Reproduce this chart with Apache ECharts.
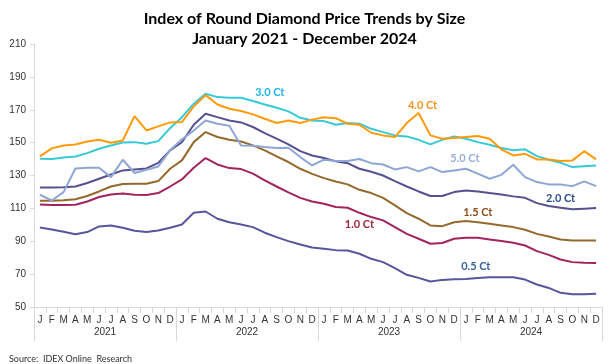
<!DOCTYPE html>
<html>
<head>
<meta charset="utf-8">
<script src="https://cdn.jsdelivr.net/npm/echarts@6/dist/echarts.min.js"></script>
<style>html,body{margin:0;padding:0;background:#fff}#c{width:609px;height:364px}</style>
</head>
<body>
<div id="c"></div>
<script>
var months = ['J','F','M','A','M','J','J','A','S','O','N','D'];
var years = ['2021','2022','2023','2024'];
var seriesNames = ['0.5 Ct','1.0 Ct','1.5 Ct','2.0 Ct','3.0 Ct','4.0 Ct','5.0 Ct'];

var ct05 = [98.4,97.2,95.8,94.3,95.6,99,99.6,98.2,96.4,95.6,96.6,98.2,
  100.2,107.3,108.1,103.7,101.6,100.2,98.6,95.2,92.5,90.1,88,86.2,
  85.4,84.6,84.4,82.4,79.3,77.3,73.6,69.6,67.7,65.5,66.5,66.9,
  67.1,67.7,68.1,68.1,68.1,66.7,63.7,61.6,58.6,57.8,57.8,58];
var ct10 = [112.4,112,112,112.2,114.2,116.9,118.5,119.1,118.3,118.1,119.3,123.3,
  127.6,134.7,140.6,136.7,134.5,133.9,131.1,127,123.3,119.7,116.4,114.2,
  112.8,110.8,110.4,107.3,104.7,102.7,98.6,94.5,91.5,88.5,88.9,91.5,
  92.1,92.1,91.1,90.1,89.1,87.4,84,81.7,78.9,77.3,76.9,76.7];
var ct15 = [114.6,114.6,115,115.6,117.5,120.3,123.3,124.8,125,125,126.6,134.1,
  139.2,150.3,156.4,153.4,151.7,150.7,148.3,145.3,141.6,138.2,134.1,131,
  128.4,126.4,124.6,121.3,119.3,116.4,111.8,107.1,103.7,99.6,99.2,101.6,
  102.3,101.6,100.6,99.6,98.6,97,94.5,92.9,91.1,90.5,90.5,90.5];
var ct20 = [122.7,122.7,122.9,123.3,125.4,128,130.6,133.1,133.7,134.3,137.7,145.3,
  150.2,160.9,167.6,165.5,163.5,162.3,159.5,155.8,152.4,148.9,144.8,142.2,
  140.6,138.6,137.5,134.1,132.3,130,126.6,123.3,120.3,117.5,117.5,119.9,
  120.9,120.3,119.3,118.5,117.3,116.4,113.2,111.4,110.4,109.4,109.8,110.2];
var ct30 = [140.2,140,141,141.6,143.6,146.3,148.3,150.1,150.3,149.3,150.9,158.8,
  165.5,173.7,179.7,177.7,177.3,177.3,175.3,173.2,171.2,169,165.1,163.5,
  163.1,160.9,161.9,161.5,158.4,156.4,154.4,153.8,151.7,148.9,151.7,153.8,
  152.4,150.3,148.7,146.7,145.3,145.9,141.8,139.6,137.7,135.1,135.7,136.1];
var ct40 = [141.6,146.5,148.3,148.9,150.7,151.7,149.9,151.3,166.1,157.4,159.9,162.3,
  162.5,172,178.9,173.2,170.6,169.2,167.2,164.5,161.9,163.5,161.9,164,
  165.5,164.9,161.5,160.9,156,154.4,153.4,161.9,168,154.4,152.4,152.8,
  153.4,154,152.4,145.9,142.2,143.2,139.8,139.8,138.8,139.2,144.8,139.8];
var ct50 = [118.3,114.8,119.9,134.3,134.7,134.7,129,139.6,131.5,133.5,135.5,145.3,
  152,157.4,163.5,161.5,160.3,148.3,148.1,147.3,146.7,146.9,141.2,136.1,
  139.6,138.8,138.8,140,137.5,136.7,133.7,135.1,132.5,135.1,132.1,133.1,
  134.1,131.1,128,130.4,136.5,129,126,124.6,124.6,123.5,126.4,123.5];

// label anchors: [category index, value]
var labelAnchors = [[37,74.9],[27,100.5],[37,107.8],[44,116.3],[19,180.8],[32,172.9],[36,140.6]];

var lineColors = ['#55569C','#A2235E','#94692C','#55508F','#36CAD6','#FF9A0A','#8EA6D4'];
var labelColors = ['#3A5E9E','#A0283E','#8B4D1A','#2F4F8C','#1FB5E3','#F7921E','#9AAFD6'];
var labelDx = [-2,0,0,0,5,4,-1];

var categories = [];
years.forEach(function(){ months.forEach(function(m){ categories.push(m); }); });
var allData = [ct05, ct10, ct15, ct20, ct30, ct40, ct50];

var chart = echarts.init(document.getElementById('c'), null, {renderer:'canvas'});
var series = allData.map(function(d, k){
  return {
    name: seriesNames[k], type: 'line', data: d, xAxisIndex: 0,
    showSymbol: false, symbol: 'none', smooth: false,
    lineStyle: {color: lineColors[k], width: 2},
    itemStyle: {color: lineColors[k]},
    z: 2 + k,
    markPoint: {
      symbol: 'circle', symbolSize: 0, silent: true,
      data: [{coord: [labelAnchors[k][0], labelAnchors[k][1]], value: seriesNames[k]}],
      label: {show: true, position: 'inside', offset: [labelDx[k], 0], formatter: seriesNames[k],
        color: labelColors[k], fontFamily: 'Lato, "Open Sans", sans-serif', fontWeight: 'bold', fontSize: 11}
    }
  };
});

chart.setOption({
  animation: false,
  title: [
    {text: 'Index of Round Diamond Price Trends by Size\nJanuary 2021 - December 2024', left: 'center', top: 4,
     textStyle: {fontFamily: 'Lato, "Open Sans", sans-serif', fontWeight: 'bold', fontSize: 16, color: '#000', lineHeight: 20}},
    {text: 'Source:  IDEX Online  Research', left: 4, top: 350,
     textStyle: {fontFamily: 'Lato, "Open Sans", sans-serif', fontWeight: 'normal', fontSize: 9, color: '#333'}}
  ],
  grid: {left: 34, right: 7, top: 44, bottom: 57},
  xAxis: [
    {type: 'category', data: categories, boundaryGap: true, position: 'bottom',
     axisLine: {show: true, lineStyle: {color: '#D9D9D9'}},
     axisTick: {show: true, length: 6, lineStyle: {color: '#D9D9D9'}},
     axisLabel: {interval: 0, margin: 8, fontSize: 10, color: '#333', fontFamily: '"Liberation Sans", Arial, sans-serif'},
     splitLine: {show: false}},
    {type: 'category', data: years, boundaryGap: true, position: 'bottom', offset: 0,
     axisLine: {show: false},
     axisTick: {show: true, length: 34, lineStyle: {color: '#D9D9D9'}},
     axisLabel: {margin: 20, fontSize: 10, color: '#333', fontFamily: '"Liberation Sans", Arial, sans-serif'},
     splitLine: {show: false}}
  ],
  yAxis: {type: 'value', min: 50, max: 210, interval: 20,
    axisLine: {show: true, lineStyle: {color: '#D9D9D9'}},
    axisTick: {show: true, length: 4, lineStyle: {color: '#D9D9D9'}},
    axisLabel: {fontSize: 10, color: '#333', margin: 8, fontFamily: '"Liberation Sans", Arial, sans-serif'},
    splitLine: {show: false}},
  series: series
});
</script>
</body>
</html>
